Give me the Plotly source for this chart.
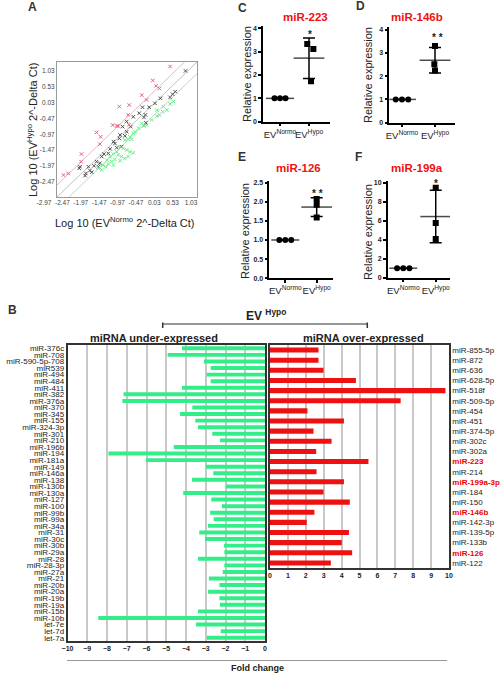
import numpy as np
import plotly.graph_objects as go

W, H = 502, 676
def px(x): return x / W
def py(y): return 1 - y / H

FONT = "Liberation Sans"

# ---------------- Panel A data (log10 2^-dCt) ----------------
a_red_x = [0.46, -0.01, 0.08, 0.17, -0.18, -0.31, -0.65, -0.68, -0.92, -1.10, -0.99, -0.95, -0.66,
           -1.54, -1.43, -1.45, -1.95, -1.96, -2.31, -2.44]
a_red_y = [1.16, 0.72, 0.55, 0.47, 0.11, 0.26, -0.05, -0.36, -0.10, -0.68, -0.71, -0.71, -0.67,
           -0.91, -1.05, -1.28, -1.59, -1.83, -2.20, -2.25]
a_blk_x = [0.88, 0.60, 0.53, 0.46, 0.20, 0.05, -0.11, -0.29, -0.38, -0.21, -0.25, -0.20, -0.54, -0.72,
           -0.83, -0.61, -0.72, -0.77, -0.90, -0.92, -1.04, -0.99, -1.17, -1.22, -1.34, -1.40, -1.45,
           -1.54, -1.49, -1.61, -1.76, -1.72, -1.99, -2.01, -1.83, -1.85, -1.67, -0.86, -1.08]
a_blk_y = [1.02, 0.37, 0.29, 0.19, 0.16, 0.00, -0.12, -0.12, -0.31, -0.36, -0.44, -0.61, -0.42, -0.57,
           -0.73, -0.73, -0.89, -1.02, -0.99, -1.10, -1.26, -1.39, -1.43, -1.57, -1.59, -1.67, -1.88,
           -1.83, -1.99, -1.96, -1.99, -2.11, -1.99, -2.04, -2.20, -2.27, -2.16, -1.36, -1.20]
a_grn_x = [0.55, 0.46, 0.37, 0.26, 0.17, 0.10, -0.04, -0.18, -0.31, -0.25, -0.40, -0.54, -0.49, -0.63,
           -0.68, -0.77, -0.58, -0.90, -0.81, -0.72, -0.63, -0.54, -0.99, -0.95, -0.86, -0.77, -1.08,
           -1.17, -1.26, -1.13, -1.04, -1.36, -1.28, -1.40, -1.22, -1.49, -1.08, -0.90, -0.68, 0.10, 0.28]
a_grn_y = [0.06, -0.02, -0.21, -0.26, -0.36, -0.40, -0.52, -0.68, -0.63, -0.71, -0.78, -0.94, -0.89,
           -1.05, -1.13, -1.15, -1.13, -1.36, -1.41, -1.46, -1.52, -1.55, -1.52, -1.62, -1.67, -1.73,
           -1.59, -1.67, -1.78, -1.83, -1.76, -1.94, -1.99, -2.09, -1.90, -2.04, -1.94, -1.80, -1.67,
           -0.21, -0.10]
a_ticks = [-2.97, -2.47, -1.97, -1.47, -0.97, -0.47, 0.03, 0.53, 1.03]
a_yticks = [-2.47, -1.97, -1.47, -0.97, -0.47, 0.03, 0.53, 1.03]
# threshold lines
a_mid_x, a_mid_y = [-2.616, 1.193], [-2.94, 1.30]
a_up_x, a_up_y = [-2.616, 0.855], [-2.563, 1.30]
a_lo_x, a_lo_y = [-2.289, 1.193], [-2.94, 0.935]

# ---------------- Panel B data ----------------
b_under_labels = ["miR-376c", "miR-708", "miR-590-5p-708", "miR539", "miR-494", "miR-484", "miR-411",
                  "miR-382", "miR-376a", "miR-370", "miR-345", "miR-155", "miR-324-3p", "miR-301",
                  "miR-210", "miR-196b", "miR-194", "miR-181a", "miR-149", "miR-146a", "miR-138",
                  "miR-130b", "miR-130a", "miR-127", "miR-100", "miR-99b", "miR-99a", "miR-34a",
                  "miR-31", "miR-30c", "miR-30b", "miR-29a", "miR-28", "miR-28-3p", "miR-27a", "miR-21",
                  "miR-20b", "miR-20a", "miR-19b", "miR-19a", "miR-15b", "miR-10b", "let-7e", "let-7d",
                  "let-7a"]
b_under_values = [-4.2, -4.93, -3.09, -2.75, -2.95, -2.75, -4.2, -7.16, -7.22, -3.68,
                  -4.3, -3.53, -3.39, -2.67, -2.28, -4.62, -7.93, -6.03, -2.99, -2.62,
                  -3.70, -1.97, -4.14, -2.72, -2.18, -2.78, -2.6, -2.89, -3.33, -3.04,
                  -2.08, -2.06, -3.39, -2.06, -2.14, -2.84, -2.31, -2.89, -2.31, -2.28,
                  -3.39, -8.44, -3.49, -2.24, -2.95]
b_over_labels = ["miR-855-5p", "miR-872", "miR-636", "miR-628-5p", "miR-518f", "miR-509-5p", "miR-454",
                 "miR-451", "miR-374-5p", "miR-302c", "miR-302a", "miR-223", "miR-214", "miR-199a-3p",
                 "miR-184", "miR-150", "miR-146b", "miR-142-3p", "miR-139-5p", "miR-133b", "miR-126",
                 "miR-122"]
b_over_values = [2.71, 2.71, 2.99, 4.8, 9.8, 7.3, 2.09, 4.13, 2.43, 3.44, 2.58, 5.5, 2.6, 4.13,
                 2.99, 4.46, 2.48, 2.05, 4.41, 4.01, 4.59, 3.4]
b_highlight = ["miR-223", "miR-199a-3p", "miR-146b", "miR-126"]

# ---------------- Panels C-F data ----------------
groups = ["EV<sup>Normo</sup>", "EV<sup>Hypo</sup>"]
c_normo, c_hypo = [1, 1, 1], [3.33, 3.11, 1.73]
d_normo, d_hypo = [1, 1, 1], [3.29, 2.51, 2.24]
e_normo, e_hypo = [1, 1, 1], [2.07, 1.92, 1.59]
f_normo, f_hypo = [1, 1, 1], [9.47, 5.75, 4.07]

fig = go.Figure()

# ---- Panel A ----
for lx, ly, col in [(a_up_x, a_up_y, "#d9a9b6"), (a_mid_x, a_mid_y, "#b0b0b0"), (a_lo_x, a_lo_y, "#b5cbb8")]:
    fig.add_trace(go.Scatter(x=lx, y=ly, mode="lines", line=dict(color=col, width=0.8),
                             xaxis="x", yaxis="y", showlegend=False, hoverinfo="skip"))
for xs, ys, col in [(a_blk_x, a_blk_y, "#505050"), (a_grn_x, a_grn_y, "#66ee88"), (a_red_x, a_red_y, "#e8607c")]:
    fig.add_trace(go.Scatter(x=xs, y=ys, mode="markers", xaxis="x", yaxis="y", showlegend=False,
                             marker=dict(symbol="x-thin", size=3.5, line=dict(width=1, color=col), color=col)))
# carrier for the tick-label axis of panel A
fig.add_trace(go.Scatter(x=[a_ticks[0], a_ticks[-1]], y=[0.5, 0.5], mode="markers", xaxis="x2", yaxis="y2",
                         marker=dict(size=1, opacity=0), showlegend=False, hoverinfo="skip"))

# ---- Panel B ----
fig.add_trace(go.Bar(x=b_under_values, y=b_under_labels, orientation="h", marker_color="#33ee88",
                     marker_line_width=0, xaxis="x3", yaxis="y3", showlegend=False))
fig.add_trace(go.Bar(x=b_over_values, y=b_over_labels, orientation="h", marker_color="#ee1111",
                     marker_line_width=0, xaxis="x4", yaxis="y4", showlegend=False, width=0.5))

# ---- Panels C-F ----
jit_n = [-0.19, 0, 0.19]
panels = [
    ("x5", "y5", c_normo, c_hypo, [-0.06, 0.15, 0.07]),
    ("x6", "y6", d_normo, d_hypo, [0, -0.02, 0]),
    ("x7", "y7", e_normo, e_hypo, [0, 0, 0]),
    ("x8", "y8", f_normo, f_hypo, [0, 0, 0]),
]
for xa, ya, nv, hv, jh in panels:
    fig.add_trace(go.Scatter(x=[0 + j for j in jit_n], y=nv, mode="markers", xaxis=xa, yaxis=ya,
                             marker=dict(symbol="circle", size=6, color="black"), showlegend=False))
    fig.add_trace(go.Scatter(x=[1 + j for j in jh], y=hv, mode="markers", xaxis=xa, yaxis=ya,
                             marker=dict(symbol="square", size=6, color="black"), showlegend=False))
    means = [np.mean(nv), np.mean(hv)]
    sds = [np.std(nv, ddof=1), np.std(hv, ddof=1)]
    fig.add_trace(go.Scatter(x=[0, 1], y=means, mode="markers", xaxis=xa, yaxis=ya, showlegend=False,
                             marker=dict(symbol="line-ew", size=[20, 22], color="black",
                                         line=dict(width=1.5, color="black")),
                             error_y=dict(type="data", array=sds, color="black", thickness=1.5, width=6)))

# ---------------- Layout ----------------
lay = dict(
    width=W, height=H, margin=dict(l=0, r=0, t=0, b=0), template="none",
    paper_bgcolor="white", plot_bgcolor="rgba(0,0,0,0)", showlegend=False, bargap=0.4,
    font=dict(family=FONT, color="#222"),
)
a_ydom = [py(197), py(62)]
lay["xaxis"] = dict(domain=[px(57), px(197)], range=[-2.616, 1.193], anchor="y", showline=True, mirror=True,
                    linecolor="#9a9a9a", linewidth=1, showgrid=False, zeroline=False, showticklabels=False,
                    ticks="")
lay["yaxis"] = dict(domain=a_ydom, range=[-2.94, 1.30], anchor="x", showline=True, mirror=True,
                    linecolor="#9a9a9a", linewidth=1, showgrid=False, zeroline=False, ticks="",
                    tickvals=a_yticks, ticktext=[f"{v:.2f}" for v in a_yticks],
                    tickfont=dict(size=6.5, color="#444"))
lay["xaxis2"] = dict(domain=[px(40), px(197)], range=[-3.079, 1.193], anchor="y2", showline=False,
                     showgrid=False, zeroline=False, ticks="", tickvals=a_ticks, tickangle=0,
                     ticktext=[f"{v:.2f}" for v in a_ticks], tickfont=dict(size=6.5, color="#444"))
lay["yaxis2"] = dict(domain=a_ydom, range=[0, 1], anchor="x2", showline=False, showgrid=False,
                     zeroline=False, showticklabels=False, ticks="")

bold7 = dict(size=7, color="#222", weight="bold")
lay["xaxis3"] = dict(domain=[px(67.5), px(265)], range=[-10, 0], anchor="y3", tick0=0, dtick=1,
                     showgrid=True, gridcolor="#c8c8c8", gridwidth=1.5, showline=True, mirror=True,
                     linecolor="#333", linewidth=1.5, zeroline=False, ticks="", tickfont=bold7)
lay["yaxis3"] = dict(domain=[py(641), py(345)], anchor="x3", autorange="reversed", type="category",
                     tickmode="array", tickvals=b_under_labels, ticktext=b_under_labels,
                     tickfont=dict(size=8, color="#222"), showline=True, mirror=True, linecolor="#333",
                     linewidth=1.5, ticks="", showgrid=False, zeroline=False)
over_text = [f'<b><span style="color:#ee0000">{l}</span></b>' if l in b_highlight else l for l in b_over_labels]
lay["xaxis4"] = dict(domain=[px(270), px(449)], range=[0, 10], anchor="y4", tick0=0, dtick=1,
                     showgrid=True, gridcolor="#c8c8c8", gridwidth=1.5, showline=True, mirror=True,
                     linecolor="#333", linewidth=1.5, zeroline=False, ticks="", tickfont=bold7)
lay["yaxis4"] = dict(domain=[py(568), py(345)], anchor="x4", side="right", autorange="reversed",
                     type="category", tickmode="array", tickvals=b_over_labels, ticktext=over_text,
                     tickfont=dict(size=8, color="#222"), showline=True, mirror=True, linecolor="#333",
                     linewidth=1.5, ticks="", showgrid=False, zeroline=False)

dot_axes = [
    ("5", [263, 330], [-0.586, 1.724], [121.7, 26], [0, 4.1], [0, 1, 2, 3, 4], None),
    ("6", [389.3, 455], [-0.385, 1.606], [122.7, 27.2], [0, 4.1], [0, 1, 2, 3, 4], None),
    ("7", [269.3, 333], [-0.51, 1.52], [278.3, 181], [0, 2.54], [0, 0.5, 1, 1.5, 2, 2.5], ".1f"),
    ("8", [387.7, 450], [-0.48, 1.44], [277.7, 180.7], [0, 10.2], [0, 2, 4, 6, 8, 10], None),
]
for n, xd, xr, yd, yr, yt, fmt in dot_axes:
    lay["xaxis" + n] = dict(domain=[px(xd[0]), px(xd[1])], range=xr, anchor="y" + n, tickvals=[0, 1],
                            ticktext=groups, ticks="outside", ticklen=3, tickwidth=1.5, tickcolor="black",
                            showline=True, linecolor="black", linewidth=1.5, showgrid=False, zeroline=False,
                            tickangle=0, tickfont=dict(size=9.5, color="#222"))
    yax = dict(domain=[py(yd[0]), py(yd[1])], range=yr, anchor="x" + n, tickvals=yt, ticks="outside",
               ticklen=3, tickwidth=1.5, tickcolor="black", showline=True, linecolor="black",
               linewidth=1.5, showgrid=False, zeroline=False, tickfont=bold7)
    if fmt:
        yax["tickformat"] = fmt
    lay["yaxis" + n] = yax

fig.update_layout(**lay)

def ann(x, y, text, size, color="#222", bold=False, angle=0):
    fig.add_annotation(x=px(x), y=py(y), xref="paper", yref="paper", text=text, showarrow=False,
                       xanchor="center", yanchor="middle", textangle=angle,
                       font=dict(size=size, color=color, family=FONT, weight="bold" if bold else "normal"))

# panel letters
for t, x, y in [("A", 32, 7), ("B", 12, 310), ("C", 242, 8), ("D", 360, 6), ("E", 242, 157), ("F", 358, 157)]:
    ann(x, y, t, 12, "#333", True)

# Panel A axis titles
ann(125, 222, "Log 10 (EV<sup>Normo</sup> 2^-Delta Ct)", 11)
ann(32, 130, "Log 10 (EV<sup>Hypo</sup> 2^-Delta Ct)", 11, angle=-90)

# Panels C-F titles / labels / stars
for t, x, y in [("miR-223", 305, 17), ("miR-146b", 417, 17), ("miR-126", 298, 168), ("miR-199a", 417, 168)]:
    ann(x, y, t, 11.5, "#ee1111", True)
for x, y in [(247, 74), (368, 75), (245, 231), (368, 232)]:
    ann(x, y, "Relative expression", 11, angle=-90)
for t, x, y in [("*", 310, 35), ("* *", 437, 37), ("* *", 317, 193.5), ("*", 436, 183.5)]:
    ann(x, y, t, 10, "#222", True)

# Panel B header
ann(266, 315, "EV <sup>Hypo</sup>", 12, "#222", True)
ann(154, 338, "miRNA under-expressed", 11, "#222", True)
ann(363, 338, "miRNA over-expressed", 11, "#222", True)
ann(257, 668, "Fold change", 9, "#222", True)

shapes = [
    dict(type="line", xref="paper", yref="paper", x0=px(162.7), x1=px(367.3), y0=py(324), y1=py(324),
         line=dict(color="#333", width=1.2)),
    dict(type="line", xref="paper", yref="paper", x0=px(162.7), x1=px(162.7), y0=py(322.5), y1=py(328),
         line=dict(color="#333", width=1.5)),
    dict(type="line", xref="paper", yref="paper", x0=px(367.3), x1=px(367.3), y0=py(322.5), y1=py(328),
         line=dict(color="#333", width=1.5)),
    dict(type="line", xref="paper", yref="paper", x0=px(67), x1=px(447), y0=py(660.5), y1=py(660.5),
         line=dict(color="#999", width=1)),
]
fig.update_layout(shapes=shapes)

# remove the browser's default 8px page margin so the figure sits at the window origin
fig.write_html("out.html", config={"displayModeBar": False},
               post_script="document.body.style.margin='0';document.body.style.padding='0';")
